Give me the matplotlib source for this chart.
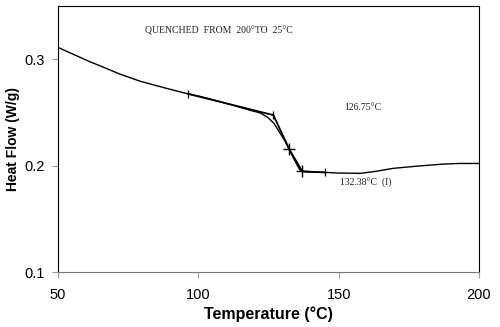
import matplotlib.pyplot as plt

plt.rcParams['font.family'] = ['Liberation Sans', 'DejaVu Sans']

# DSC trace, quenched sample
temp = [50, 61.4, 65, 72, 79.2, 88, 96.3, 100.6, 110, 118.4, 122, 124.8,
        127, 129.1, 130.8, 132.3, 134.2, 136.2, 138, 141, 145.1, 150,
        157.6, 163, 169.4, 178, 187.2, 193, 200]
heat_flow = [0.311, 0.2975, 0.2937, 0.286, 0.2793, 0.273, 0.2674, 0.265,
             0.2585, 0.252, 0.2495, 0.2452, 0.2395, 0.2305, 0.2235, 0.2155,
             0.2055, 0.1958, 0.1942, 0.1938, 0.1936, 0.193, 0.1927, 0.1945,
             0.1974, 0.1995, 0.2014, 0.202, 0.202]

# onset / inflection construction
tang_x = [96.3, 126.75, 132.38, 137.0, 145.1]
tang_y = [0.2674, 0.2474, 0.2155, 0.1946, 0.1936]
tick_x = [96.3, 126.75, 145.1]
tick_y = [0.2674, 0.2474, 0.1936]
cross_x = [132.38, 137.0]
cross_y = [0.2155, 0.1946]

fig = plt.figure(figsize=(5, 3.27), dpi=100)
ax = fig.add_axes([0.116, 0.168, 0.842, 0.814])

ax.plot(temp, heat_flow, color='black', lw=1.0)
ax.plot(tang_x, tang_y, color='black', lw=1.3)
ax.plot(tick_x, tick_y, ls='none', marker='|', ms=6, color='black', mew=0.9)
ax.plot(cross_x, cross_y, ls='none', marker='+', ms=9, color='black', mew=1.0)

note = dict(transform=ax.transAxes, family='Liberation Serif', fontsize=7,
            color='#222222', va='center')
ax.text(0.207, 0.906, 'QUENCHED  FROM  200°TO  25°C', **note)
ax.text(0.68, 0.617, '126.75°C', **note)
ax.text(0.67, 0.335, '132.38°C  (I)', **note)

ax.set_xlim(50, 200)
ax.set_ylim(0.1, 0.35)
ax.set_xticks([50, 100, 150, 200])
ax.set_yticks([0.1, 0.2, 0.3])
ax.set_yticklabels(['0.1', '0.2', '0.3'])
ax.tick_params(direction='out', length=4.5, color='#999999', labelsize=10.5)
ax.tick_params(axis='x', pad=7)
ax.tick_params(axis='y', pad=5)

for side in ['top', 'right', 'left']:
    ax.spines[side].set_color('black')
ax.spines['bottom'].set_color('#777777')

ax.set_xlabel('Temperature (°C)', fontsize=11.5, fontweight='bold', labelpad=3)
ax.set_ylabel('Heat Flow (W/g)', fontsize=10, fontweight='bold', va='center')
ax.yaxis.set_label_coords(-0.108, 0.5)

fig.savefig('out.png', dpi=100)
